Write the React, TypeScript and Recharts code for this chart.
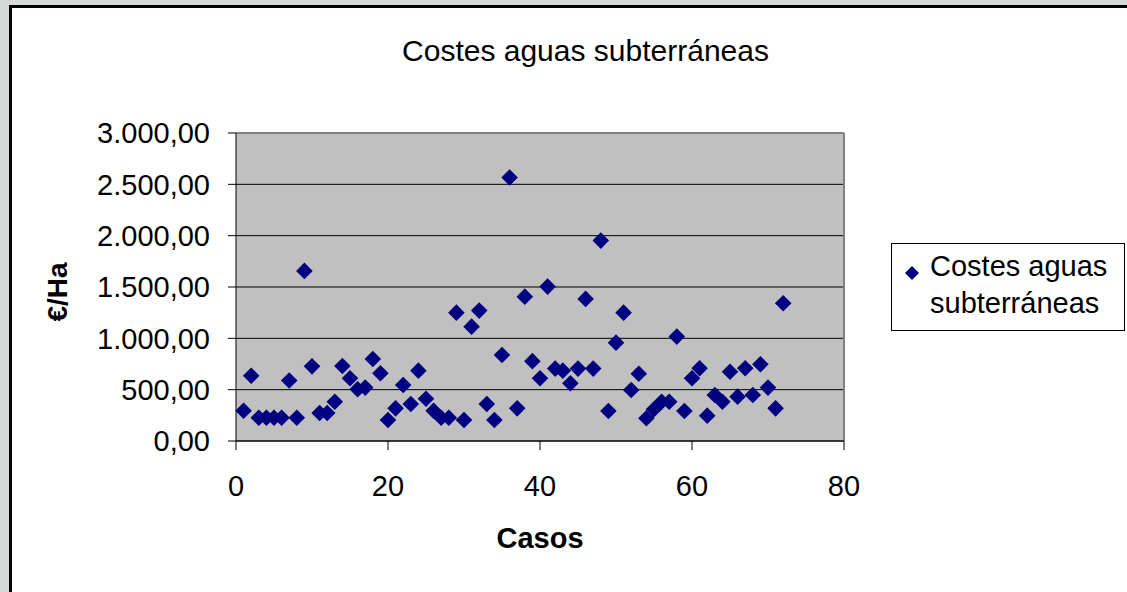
import { ScatterChart, Scatter, XAxis, YAxis, CartesianGrid, ReferenceLine, Legend } from 'recharts'

const font = "'Liberation Sans', Arial, sans-serif"

const casos = [
  1, 2, 3, 4, 5, 6, 7, 8, 9, 10, 11, 12, 13, 14, 15, 16, 17, 18,
  19, 20, 21, 22, 23, 24, 25, 26, 27, 28, 29, 30, 31, 32, 33, 34, 35, 36,
  37, 38, 39, 40, 41, 42, 43, 44, 45, 46, 47, 48, 49, 50, 51, 52, 53, 54,
  55, 56, 57, 58, 59, 60, 61, 62, 63, 64, 65, 66, 67, 68, 69, 70, 71, 72,
]
const costes = [
  295, 636, 227, 227, 227, 227, 590, 227, 1657, 727, 273, 273, 383, 731, 611, 504, 520, 799,
  660, 205, 318, 546, 361, 685, 412, 295, 227, 227, 1250, 205, 1114, 1270, 361, 205, 838, 2566,
  318, 1406, 778, 611, 1504, 705, 685, 562, 705, 1384, 705, 1952, 292, 958, 1250, 497, 655, 221,
  309, 383, 383, 1017, 292, 611, 708, 247, 448, 383, 675, 432, 708, 448, 747, 520, 318, 1342,
]
const xTicks = [0, 20, 40, 60, 80]
const yTicks = [0, 500, 1000, 1500, 2000, 2500, 3000]
const yTickLabels = ['0,00', '500,00', '1.000,00', '1.500,00', '2.000,00', '2.500,00', '3.000,00']
const seriesName = 'Costes aguas subterráneas'

const data = casos.map((c, i) => ({ caso: c, coste: costes[i] }))

function Diamond(props: any) {
  const { cx, cy } = props
  if (cx == null || cy == null) return null
  const r = 8.3
  return (
    <polygon
      points={`${cx},${cy - r} ${cx + r},${cy} ${cx},${cy + r} ${cx - r},${cy}`}
      fill="#000080"
    />
  )
}

function CasosLabel(props: any) {
  const vb = props.viewBox || { x: 236, y: 441, width: 608 }
  return (
    <text x={vb.x + vb.width / 2} y={vb.y + 107} textAnchor="middle"
      fontFamily={font} fontSize={29} fontWeight="bold" fill="#000">
      Casos
    </text>
  )
}

function EuroLabel() {
  return (
    <text x={67} y={292} transform="rotate(-90 67 292)" textAnchor="middle"
      fontFamily={font} fontSize={28} fontWeight="bold" fill="#000">
      €/Ha
    </text>
  )
}

function LegendBox(props: any) {
  const name = props.payload?.[0]?.value ?? seriesName
  return (
    <div style={{
      position: 'relative', width: 234, height: 88, boxSizing: 'border-box',
      border: '1px solid #000', background: '#fff', fontFamily: font,
    }}>
      <svg width={14} height={14} style={{ position: 'absolute', left: 13, top: 22 }}>
        <polygon points="7,0 14,7 7,14 0,7" fill="#000080" />
      </svg>
      <div style={{
        position: 'absolute', left: 38, top: 4, width: 190,
        fontSize: 29, lineHeight: '36.7px', color: '#000',
      }}>
        {name}
      </div>
    </div>
  )
}

export default function App() {
  return (
    <div style={{
      position: 'absolute', left: 0, top: 0, width: 1127, height: 592,
      background: '#d5d9d8', overflow: 'hidden', fontFamily: font,
    }}>
      <div style={{
        position: 'absolute', left: 9, top: 5, width: 1140, height: 620,
        background: '#fff', border: '3px solid #000', boxSizing: 'border-box',
      }} />
      <div style={{
        position: 'absolute', left: 285.5, top: 36, width: 600, textAlign: 'center',
        fontSize: 30, lineHeight: '30px', color: '#000',
      }}>
        {seriesName}
      </div>
      <div style={{ position: 'absolute', left: 0, top: 0 }}>
        <ScatterChart width={1127} height={592} margin={{ top: 133, right: 283, bottom: 91, left: 0 }}>
          <CartesianGrid horizontal vertical={false} fill="#c0c0c0" stroke="#000" strokeOpacity={1} />
          <XAxis
            type="number" dataKey="caso" domain={[0, 80]} ticks={xTicks} height={60}
            tickSize={9} tickMargin={25} interval={0}
            axisLine={{ stroke: '#000' }} tickLine={{ stroke: '#000' }}
            tick={{ fill: '#000', fontSize: 29, fontFamily: font }}
            label={<CasosLabel />}
          />
          <YAxis
            type="number" dataKey="coste" domain={[0, 3000]} ticks={yTicks} width={236}
            tickSize={8} tickMargin={18} interval={0}
            tickFormatter={(v: number) => yTickLabels[yTicks.indexOf(v)]}
            axisLine={{ stroke: '#000' }} tickLine={{ stroke: '#000' }}
            tick={{ fill: '#000', fontSize: 29, fontFamily: font }}
            label={<EuroLabel />}
          />
          <ReferenceLine y={3000} stroke="#808080" strokeWidth={2} />
          <ReferenceLine x={80} stroke="#808080" strokeWidth={2} />
          <Legend
            layout="horizontal" verticalAlign="middle" align="center"
            wrapperStyle={{ left: 891, top: 243, width: 234, height: 88 }}
            content={(p: any) => <LegendBox {...p} />}
          />
          <Scatter name={seriesName} data={data} fill="#000080"
            shape={(p: any) => <Diamond {...p} />} isAnimationActive={false} />
        </ScatterChart>
      </div>
    </div>
  )
}
